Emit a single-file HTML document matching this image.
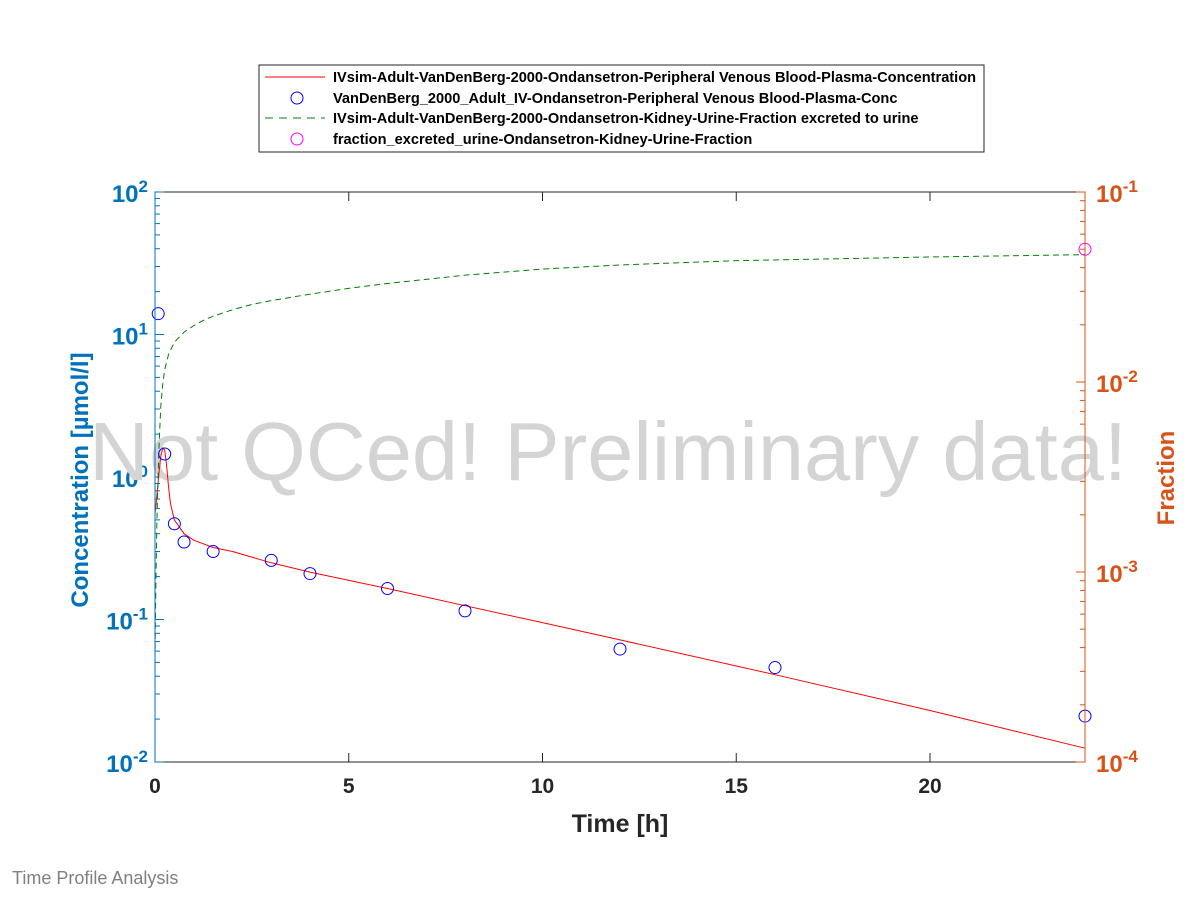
<!DOCTYPE html>
<html><head><meta charset="utf-8"><style>
body{margin:0;background:#fff;}
svg{display:block;font-family:"Liberation Sans",Arial,sans-serif;}
</style></head><body>
<svg id="chart" width="1200" height="900" viewBox="0 0 1200 900">
<rect x="0" y="0" width="1200" height="900" fill="#fff"/>
<rect x="155" y="192" width="930" height="570" fill="#fff" stroke="#262626" stroke-width="1"/>
<g id="lt"></g><g id="rt"></g><g id="xt"></g>
<text x="608" y="480" font-size="83" fill="#d4d4d4" text-anchor="middle">Not QCed! Preliminary data!</text>
<g id="marks"></g>
<line x1="155" y1="192" x2="155" y2="762" stroke="#0072bd"/>
<line x1="1085" y1="192" x2="1085" y2="762" stroke="#d95319"/>
<text x="620" y="832" font-size="25" font-weight="bold" fill="#262626" text-anchor="middle">Time [h]</text>
<text transform="translate(88,480) rotate(-90)" font-size="24" font-weight="bold" fill="#0072bd" text-anchor="middle">Concentration [µmol/l]</text>
<text transform="translate(1174,478) rotate(-90)" font-size="24" font-weight="bold" fill="#d95319" text-anchor="middle">Fraction</text>
<text x="12" y="884" font-size="18" fill="#808080">Time Profile Analysis</text>
<g>
<rect x="259" y="65" width="725" height="87" fill="#fff" stroke="#262626"/>
<line x1="265" y1="77" x2="325" y2="77" stroke="#f00"/>
<text x="333" y="82" font-size="14.6" font-weight="bold" fill="#000">IVsim-Adult-VanDenBerg-2000-Ondansetron-Peripheral Venous Blood-Plasma-Concentration</text>
<circle cx="297" cy="98" r="6" fill="none" stroke="#00f"/>
<text x="333" y="103" font-size="14.6" font-weight="bold" fill="#000">VanDenBerg_2000_Adult_IV-Ondansetron-Peripheral Venous Blood-Plasma-Conc</text>
<line x1="265" y1="118" x2="325" y2="118" stroke="#008000" stroke-dasharray="8,6"/>
<text x="333" y="123" font-size="14.6" font-weight="bold" fill="#000">IVsim-Adult-VanDenBerg-2000-Ondansetron-Kidney-Urine-Fraction excreted to urine</text>
<circle cx="297" cy="139" r="6" fill="none" stroke="#f0f"/>
<text x="333" y="144" font-size="14.6" font-weight="bold" fill="#000">fraction_excreted_urine-Ondansetron-Kidney-Urine-Fraction</text>
</g>
</svg>
<script>
const simTime=[0,0.05,0.1,0.15,0.2,0.25,0.3,0.35,0.4,0.5,0.75,1,1.5,2,3,4,6,8,10,12,16,20,24];
const simConc=[0.55,0.75,1.05,1.4,1.6,1.55,1.2,0.85,0.65,0.5,0.4,0.36,0.32,0.3,0.25,0.215,0.165,0.125,0.095,0.072,0.041,0.023,0.0125];
const obsTime=[0.083,0.25,0.5,0.75,1.5,3,4,6,8,12,16,24];
const obsConc=[14,1.45,0.47,0.35,0.30,0.26,0.21,0.165,0.115,0.062,0.046,0.021];
const fracTime=[0,0.02,0.05,0.1,0.15,0.2,0.25,0.35,0.5,0.75,1,1.25,1.5,2,2.5,3,4,5,6,8,10,12,15,20,24];
const fracVal=[0.00035,0.0008,0.0019,0.0044,0.0075,0.0098,0.0116,0.0140,0.0162,0.0183,0.0198,0.0211,0.0222,0.0240,0.0256,0.0268,0.0290,0.0311,0.0330,0.0365,0.0393,0.0413,0.0435,0.0455,0.0468];
const obsFracTime=[24];
const obsFracVal=[0.05];
const xTicks=[0,5,10,15,20];
const leftExp=[-2,-1,0,1,2];
const rightExp=[-4,-3,-2,-1];
const NS="http://www.w3.org/2000/svg";
const X=t=>155+t/24*930;
const YL=v=>762-(Math.log10(v)+2)*142.5;
const YR=v=>762-(Math.log10(v)+4)*190;
function mk(tag,attrs,parent){const e=document.createElementNS(NS,tag);for(const k in attrs)e.setAttribute(k,attrs[k]);parent.appendChild(e);return e;}
const marks=document.getElementById('marks');
let p=mk('polyline',{points:simTime.map((t,i)=>X(t)+','+YL(simConc[i])).join(' '),fill:'none',stroke:'#f00','stroke-width':1},marks);


p=mk('polyline',{points:fracTime.map((t,i)=>X(t)+','+YR(fracVal[i])).join(' '),fill:'none',stroke:'#008000','stroke-width':1,'stroke-dasharray':'6,4'},marks);


obsTime.forEach((t,i)=>{const c=mk('circle',{cx:X(t),cy:YL(obsConc[i]),r:6,fill:'none',stroke:'#00f'},marks);

});
obsFracTime.forEach((t,i)=>{const c=mk('circle',{cx:X(t),cy:YR(obsFracVal[i]),r:6,fill:'none',stroke:'#f0f'},marks);

});
const xt=document.getElementById('xt');
xTicks.forEach(t=>{mk('line',{x1:X(t),y1:762,x2:X(t),y2:753,stroke:'#262626'},xt);mk('line',{x1:X(t),y1:192,x2:X(t),y2:201,stroke:'#262626'},xt);
const tx=mk('text',{x:X(t),y:793,'font-size':21,'font-weight':'bold',fill:'#262626','text-anchor':'middle'},xt);tx.textContent=t;

});
const lt=document.getElementById('lt');
leftExp.forEach(e=>{const y=YL(Math.pow(10,e));mk('line',{x1:155,y1:y,x2:164,y2:y,stroke:'#0072bd'},lt);
if(e<2)for(let m=2;m<10;m++){const yy=YL(m*Math.pow(10,e));mk('line',{x1:155,y1:yy,x2:160,y2:yy,stroke:'#0072bd'},lt);}
const tx=mk('text',{x:148,y:y+10,'font-size':24,'font-weight':'bold',fill:'#0072bd','text-anchor':'end'},lt);
tx.innerHTML='10<tspan dy="-10" font-size="17">'+e+'</tspan>';

});
const rt=document.getElementById('rt');
rightExp.forEach(e=>{const y=YR(Math.pow(10,e));mk('line',{x1:1076,y1:y,x2:1085,y2:y,stroke:'#d95319'},rt);
if(e<-1)for(let m=2;m<10;m++){const yy=YR(m*Math.pow(10,e));mk('line',{x1:1080,y1:yy,x2:1085,y2:yy,stroke:'#d95319'},rt);}
const tx=mk('text',{x:1096,y:y+10,'font-size':24,'font-weight':'bold',fill:'#d95319'},rt);
tx.innerHTML='10<tspan dy="-10" font-size="17">'+e+'</tspan>';

});
</script>
</body></html>
